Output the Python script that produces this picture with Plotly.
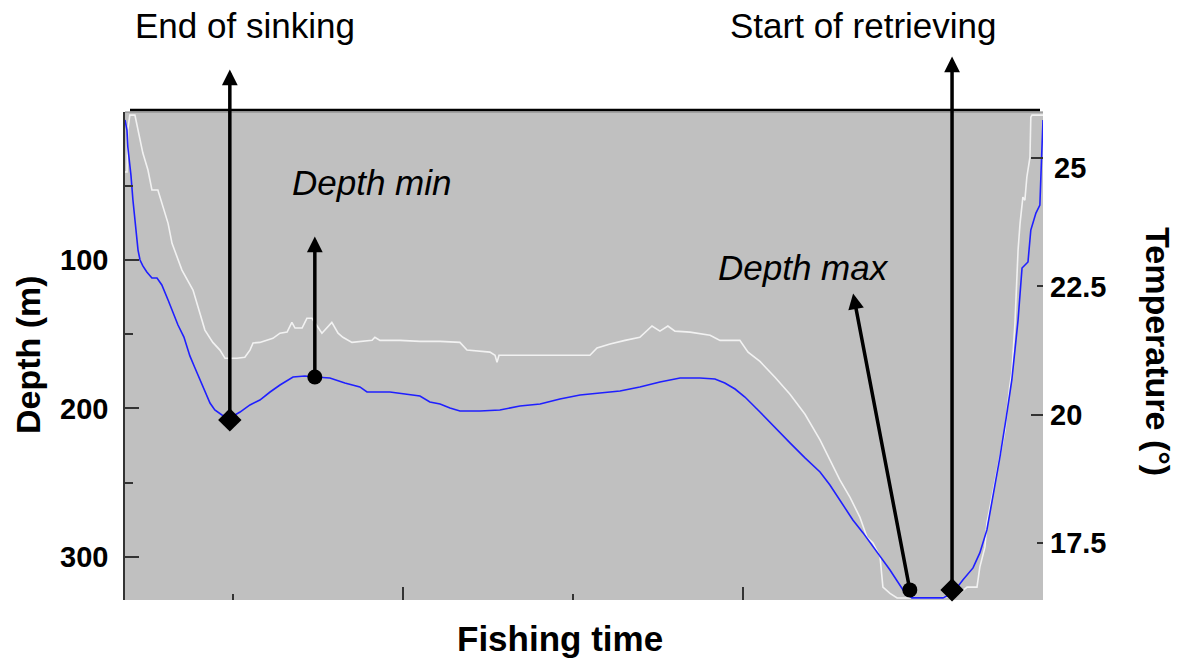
import plotly.graph_objects as go

# ---------------- data ----------------
# Depth record (blue line): fishing time in minutes, depth in metres
depth_time = [21.9, 22.6, 22.9, 24.0, 24.7, 25.8, 26.5, 27.2, 28.2, 29.6, 31.4, 33.2, 34.9, 37.1,
              38.8, 40.6, 42.7, 44.8, 46.6, 48.4, 50.1, 51.9, 53.6, 56.1, 58.9, 62.5, 66.0, 69.5,
              73.1, 76.6, 81.2, 85.4, 88.9, 94.2, 99.5, 104.8, 107.3, 110.1, 115.4, 120.7, 126.0,
              129.5, 133.1, 136.6, 140.1, 147.2, 154.2, 161.3, 168.4, 175.4, 182.5, 189.5, 196.6,
              203.6, 210.7, 217.8, 224.8, 230.1, 233.6, 237.2, 240.7, 246.0, 251.3, 256.6, 261.9,
              267.2, 270.7, 274.2, 278.8, 282.4, 287.3, 291.9, 296.5, 299.6, 304.2, 310.6, 314.1,
              317.6, 321.2, 323.6, 326.1, 328.2, 330.7, 332.8, 334.9, 337.1, 338.5, 340.6, 341.6,
              343.4, 344.8, 345.2, 345.9]
depth_m = [5.7, 12.5, 23.9, 42.8, 59.6, 79.8, 93.3, 100.0, 104.0, 108.1, 112.1, 112.1, 116.8, 126.9,
           135.0, 143.8, 151.9, 164.6, 172.7, 180.8, 188.9, 196.3, 201.0, 204.4, 206.4, 202.4, 197.6,
           194.3, 188.9, 184.2, 178.8, 178.1, 178.8, 179.5, 182.8, 185.5, 188.9, 188.9, 188.9, 190.2,
           191.6, 195.6, 197.0, 199.7, 201.7, 201.7, 201.0, 198.3, 197.0, 193.6, 190.9, 189.6, 188.2,
           185.5, 182.2, 179.5, 179.5, 180.1, 182.8, 186.9, 192.3, 202.4, 213.1, 223.2, 233.3,
           242.8, 251.5, 261.6, 275.1, 283.8, 296.6, 308.8, 322.2, 327.6, 327.6, 327.6, 324.2,
           315.5, 307.4, 297.3, 281.8, 259.6, 232.7, 207.7, 180.8, 140.4, 105.4, 101.3, 79.8,
           68.4, 63.0, 41.4, 5.7]

# Temperature record (white line): fishing time in minutes, temperature in degrees
temp_time = [21.9, 22.6, 22.9, 23.6, 25.4, 26.8, 28.2, 30.0, 31.4, 33.5, 35.3, 37.1, 38.5, 40.2,
             42.0, 45.9, 48.4, 50.1, 52.9, 55.4, 57.2, 61.4, 64.2, 66.0, 67.1, 69.5, 74.1, 76.6,
             79.1, 80.8, 81.9, 84.4, 86.1, 87.9, 91.4, 93.2, 94.9, 97.1, 98.8, 102.0, 109.1, 110.1,
             111.9, 118.9, 126.0, 133.1, 140.1, 142.6, 150.7, 152.5, 153.2, 153.9, 168.4, 186.0,
             188.5, 193.1, 198.4, 203.6, 207.9, 210.7, 213.5, 216.0, 221.3, 228.4, 231.9, 238.9,
             241.8, 246.0, 251.3, 256.6, 261.9, 267.2, 270.7, 274.2, 277.8, 281.3, 283.8, 285.9,
             288.4, 289.4, 291.9, 294.4, 309.5, 315.5, 319.1, 322.6, 323.6, 325.4, 326.1, 327.2,
             328.9, 330.7, 332.5, 334.2, 334.9, 336.0, 336.7, 337.1, 337.8, 338.8, 339.5, 340.2,
             341.3, 341.6, 342.0, 345.9]
temp_c = [24.73, 24.73, 25.55, 25.84, 25.84, 25.49, 25.10, 24.77, 24.38, 24.38, 24.05, 23.73, 23.34,
          23.07, 22.82, 22.43, 21.98, 21.65, 21.41, 21.26, 21.10, 21.10, 21.12, 21.26, 21.40, 21.41,
          21.49, 21.59, 21.61, 21.80, 21.69, 21.69, 21.88, 21.88, 21.59, 21.69, 21.80, 21.59, 21.51,
          21.41, 21.45, 21.51, 21.45, 21.45, 21.43, 21.43, 21.41, 21.26, 21.22, 21.16, 21.02, 21.16,
          21.16, 21.16, 21.30, 21.38, 21.45, 21.51, 21.73, 21.63, 21.73, 21.63, 21.61, 21.55, 21.45,
          21.45, 21.22, 21.04, 20.73, 20.40, 20.01, 19.51, 19.12, 18.73, 18.39, 18.00, 17.61, 17.50,
          17.23, 16.64, 16.52, 16.43, 16.43, 16.48, 16.64, 16.64, 17.03, 17.42, 17.89, 18.20, 18.73,
          19.25, 19.70, 20.58, 20.81, 21.78, 22.68, 23.21, 23.73, 24.24, 24.18, 24.63, 25.02, 25.80,
          25.84, 25.84]

# Marked events: end of sinking, depth min, depth max, start of retrieving
event_names = ["End of sinking", "Depth min", "Depth max", "Start of retrieving"]
event_time = [58.9, 88.9, 298.9, 313.8]
event_depth = [207.7, 178.8, 322.2, 322.2]
event_symbol = ["diamond", "circle", "circle", "diamond"]

depth_ticks = [100, 200, 300]
depth_minor = [50, 150, 250]
temp_ticks = [17.5, 20, 22.5, 25]
temp_long_ticks = [20, 25]
time_ticks = [120, 240]
time_minor = [60, 180]

# ---------------- figure ----------------
FONT = "Liberation Sans, Arial, sans-serif"
W, H = 1181, 660
L, R, T, B = 125, 138, 112, 60
PW, PH = W - L - R, H - T - B

def px(xp):
    return (xp - L) / PW

def py(yp):
    return (H - B - yp) / PH

fig = go.Figure()
fig.add_trace(go.Scatter(x=temp_time, y=temp_c, yaxis="y", mode="lines",
                         line=dict(color="#f2f2f2", width=1.6), hoverinfo="skip"))
fig.add_trace(go.Scatter(x=depth_time, y=depth_m, yaxis="y2", mode="lines",
                         line=dict(color="#1f1fff", width=1.6), hoverinfo="skip"))
fig.add_trace(go.Scatter(x=event_time, y=event_depth, yaxis="y2", mode="markers",
                         marker=dict(symbol=event_symbol,
                                     size=[18 if s == "diamond" else 15 for s in event_symbol],
                                     color="black", opacity=1,
                                     line=dict(color="black", width=0)),
                         cliponaxis=False, hoverinfo="skip"))
fig.add_trace(go.Scatter(x=[None], y=[None], yaxis="y3", hoverinfo="skip"))

tick_font = dict(family=FONT, size=29, color="black", weight="bold")

fig.update_layout(
    width=W, height=H,
    margin=dict(l=L, r=R, t=T, b=B, pad=0),
    paper_bgcolor="white", plot_bgcolor="#c0c0c0",
    showlegend=False,
    xaxis=dict(range=[21.9, 345.9], showgrid=False, zeroline=False, showline=False,
               tickvals=time_ticks, ticks="inside", ticklen=13, tickwidth=1.5, tickcolor="#333",
               showticklabels=False,
               minor=dict(tickvals=time_minor, ticks="inside", ticklen=6, tickwidth=1.5,
                          tickcolor="#333")),
    yaxis=dict(range=[16.39, 25.9], side="right", showgrid=False, zeroline=False, showline=False,
               tickvals=temp_ticks, ticktext=["17.5", "20", "22.5", ""],
               ticks="inside", ticklen=6, tickwidth=1.5, tickcolor="#333",
               tickfont=tick_font, ticklabelstandoff=6),
    yaxis2=dict(range=[329, 0.3], side="left", overlaying="y", showgrid=False, zeroline=False,
                showline=True, linecolor="#333", linewidth=1.5,
                tickvals=depth_ticks, ticks="inside", ticklen=14, tickwidth=1.5, tickcolor="#333",
                tickfont=tick_font, ticklabelstandoff=9,
                minor=dict(tickvals=depth_minor, ticks="inside", ticklen=8, tickwidth=1.5,
                           tickcolor="#333")),
    yaxis3=dict(range=[16.39, 25.9], side="right", overlaying="y", showgrid=False,
                zeroline=False, showline=False, tickvals=temp_long_ticks, ticks="inside",
                ticklen=12, tickwidth=1.5, tickcolor="#333", showticklabels=False),
)

# top frame line
fig.add_shape(type="line", xref="paper", yref="paper", x0=0, x1=1, y0=1, y1=1,
              line=dict(color="#808080", width=1))
fig.add_shape(type="line", xref="paper", yref="paper", x0=px(130), x1=px(1040),
              y0=py(110), y1=py(110), line=dict(color="black", width=2.5))

# arrows from each marked event
arrow_offsets = [(0, -352), (0, -142), (-57, -298), (0, -535)]
for t, d, (ax, ay) in zip(event_time, event_depth, arrow_offsets):
    fig.add_annotation(x=t, y=d, xref="x", yref="y2", ax=ax, ay=ay, text="",
                       font=dict(size=1), showarrow=True, arrowside="start",
                       startarrowhead=2, startarrowsize=0.9, arrowwidth=3.5,
                       arrowcolor="black")

label_font = dict(family=FONT, size=35, color="black")
fig.add_annotation(text=event_names[0], x=px(245), y=py(25), xref="paper", yref="paper",
                   showarrow=False, font=label_font, xanchor="center", yanchor="middle")
fig.add_annotation(text=event_names[3], x=px(863), y=py(25), xref="paper", yref="paper",
                   showarrow=False, font=label_font, xanchor="center", yanchor="middle")
fig.add_annotation(text="<i>" + event_names[1] + "</i>", x=px(372), y=py(182), xref="paper",
                   yref="paper", showarrow=False, font=label_font, xanchor="center",
                   yanchor="middle")
fig.add_annotation(text="<i>" + event_names[2] + "</i>", x=px(803), y=py(267), xref="paper",
                   yref="paper", showarrow=False, font=label_font, xanchor="center",
                   yanchor="middle")

# the "25" label sits a little below its tick in the original
fig.add_annotation(text="25", x=px(1052), y=py(168), xref="paper", yref="paper",
                   showarrow=False, font=tick_font, xanchor="left", yanchor="middle")

title_font = dict(family=FONT, size=34, color="black", weight="bold")
fig.add_annotation(text="Fishing time", x=px(560), y=py(638), xref="paper", yref="paper",
                   showarrow=False, font=dict(family=FONT, size=35, color="black", weight="bold"),
                   xanchor="center", yanchor="middle")
fig.add_annotation(text="Depth (m)", x=px(28), y=py(355), xref="paper", yref="paper",
                   showarrow=False, font=title_font, textangle=-90,
                   xanchor="center", yanchor="middle")
fig.add_annotation(text="Temperature (°)", x=px(1158), y=py(351), xref="paper", yref="paper",
                   showarrow=False, font=title_font, textangle=90,
                   xanchor="center", yanchor="middle")

fig.write_html("out.html", config={"displayModeBar": False},
               post_script="document.body.style.margin='0px';document.body.style.overflow='hidden';")
